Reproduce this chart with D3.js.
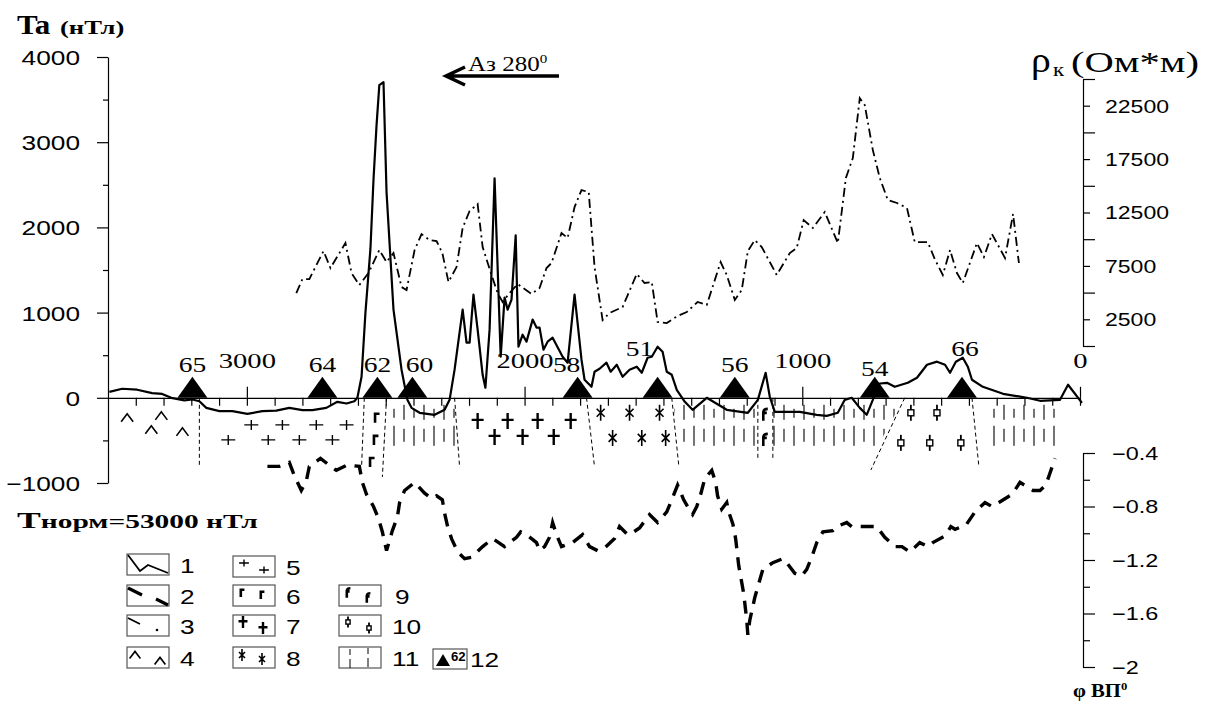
<!DOCTYPE html>
<html>
<head>
<meta charset="utf-8">
<script src="https://cdn.jsdelivr.net/npm/d3@7"></script>
<style>
  body { margin: 0; background: #fff; }
</style>
</head>
<body>
<div id="container"></div>
<script>
// ---- data ----
// distance along profile (m), anomaly Ta (nT)
const taProfile = [[3495,70],[3449,106],[3395,95],[3341,55],[3305,45],[3272,0],[3225,-31],[3196,-20],[3171,-40],[3146,-118],[3099,-157],[3052,-157],[2998,-188],[2944,-157],[2894,-150],[2847,-118],[2800,-145],[2764,-145],[2714,-118],[2674,-47],[2641,-67],[2613,-40],[2602,0],[2587,247],[2573,1000],[2555,1750],[2544,2560],[2533,3200],[2523,3670],[2508,3706],[2497,2412],[2472,1035],[2443,330],[2422,-24],[2407,-118],[2378,-176],[2324,-200],[2288,-141],[2270,-24],[2252,330],[2223,1035],[2209,647],[2198,647],[2184,1212],[2169,800],[2151,270],[2141,118],[2126,800],[2108,2576],[2086,482],[2072,1176],[2061,1035],[2047,1153],[2032,1906],[2022,600],[2007,741],[1993,659],[1971,918],[1957,824],[1946,824],[1932,565],[1917,659],[1899,706],[1863,482],[1845,412],[1820,1212],[1795,447],[1784,212],[1759,129],[1748,306],[1730,341],[1705,412],[1690,306],[1668,388],[1647,247],[1622,329],[1596,365],[1578,294],[1557,470],[1542,482],[1521,600],[1503,541],[1488,306],[1470,270],[1452,94],[1423,-47],[1395,-141],[1344,0],[1272,-141],[1196,-176],[1160,-24],[1132,294],[1117,12],[1099,-165],[1009,-165],[948,-200],[912,-212],[872,-176],[847,-24],[822,0],[793,-118],[768,-200],[746,-24],[728,165],[695,176],[667,129],[620,176],[587,235],[551,388],[515,424],[486,388],[468,294],[447,424],[422,470],[404,365],[389,212],[350,129],[277,47],[191,0],[144,-35],[72,-24],[43,153],[-7,-59]]

// apparent resistivity rho_k (Ohm*m)
const rhoProfile = [[2822,4960],[2800,6270],[2775,6270],[2724,8890],[2699,7300],[2645,9640],[2623,6830],[2595,5710],[2562,6830],[2523,8990],[2497,7860],[2472,8700],[2443,5520],[2425,5240],[2396,8990],[2371,10480],[2342,9920],[2317,9830],[2296,8700],[2274,5990],[2245,7390],[2223,11050],[2198,12640],[2169,13290],[2151,9270],[2119,6650],[2097,4960],[2079,4120],[2054,4960],[2025,5800],[1975,4870],[1946,5430],[1921,7300],[1903,7770],[1867,10580],[1845,10110],[1820,13010],[1795,14600],[1769,14410],[1748,7390],[1719,2430],[1694,3090],[1647,3650],[1596,6740],[1568,5900],[1542,5990],[1521,2250],[1488,2150],[1449,2810],[1416,3180],[1377,4120],[1344,3840],[1294,7860],[1272,6650],[1243,4310],[1218,5240],[1196,8890],[1171,9920],[1146,9270],[1092,6650],[1045,8700],[1020,9170],[995,11790],[962,11050],[919,12540],[872,9640],[843,15730],[818,17600],[793,23210],[775,22560],[746,18350],[721,15730],[692,13670],[659,13390],[623,12920],[595,9730],[548,9730],[523,8140],[494,6650],[468,8990],[443,6830],[422,5900],[371,9640],[346,8330],[317,10480],[270,8240],[241,12360],[220,7770]]

// induced polarisation phase (deg)
const phiProfile = [[2926,-0.50],[2883,-0.50],[2847,-0.47],[2829,-0.57],[2804,-0.68],[2786,-0.61],[2775,-0.50],[2735,-0.44],[2692,-0.51],[2678,-0.53],[2638,-0.49],[2595,-0.50],[2584,-0.62],[2569,-0.71],[2544,-0.80],[2526,-0.89],[2512,-0.99],[2497,-1.13],[2476,-0.98],[2458,-0.88],[2450,-0.77],[2432,-0.68],[2396,-0.62],[2360,-0.70],[2335,-0.74],[2317,-0.72],[2296,-0.75],[2288,-0.85],[2277,-0.95],[2263,-1.04],[2241,-1.14],[2216,-1.19],[2191,-1.18],[2151,-1.10],[2115,-1.04],[2072,-1.10],[2029,-1.03],[2014,-0.99],[1993,-1.01],[1957,-1.07],[1946,-1.13],[1928,-1.10],[1910,-1.03],[1899,-0.92],[1885,-1.01],[1867,-1.10],[1827,-1.07],[1791,-1.01],[1766,-1.10],[1737,-1.13],[1712,-1.11],[1676,-1.04],[1658,-0.95],[1629,-1.01],[1614,-1.00],[1586,-0.96],[1557,-0.88],[1550,-0.86],[1521,-0.92],[1488,-0.84],[1470,-0.75],[1449,-0.64],[1427,-0.75],[1405,-0.83],[1395,-0.86],[1380,-0.80],[1366,-0.71],[1351,-0.59],[1326,-0.53],[1312,-0.62],[1305,-0.72],[1290,-0.82],[1272,-0.77],[1265,-0.84],[1250,-0.93],[1240,-1.04],[1229,-1.24],[1211,-1.45],[1200,-1.65],[1196,-1.76],[1189,-1.65],[1171,-1.48],[1142,-1.27],[1106,-1.22],[1070,-1.19],[1056,-1.22],[1027,-1.30],[1002,-1.32],[984,-1.27],[966,-1.18],[948,-1.07],[926,-0.99],[890,-0.98],[876,-0.95],[840,-0.92],[822,-0.95],[786,-0.95],[732,-0.95],[703,-1.03],[667,-1.10],[641,-1.10],[613,-1.14],[577,-1.07],[548,-1.10],[530,-1.07],[486,-1.02],[465,-0.95],[450,-0.97],[411,-0.94],[378,-0.84],[342,-0.77],[317,-0.80],[292,-0.77],[245,-0.71],[216,-0.62],[169,-0.68],[144,-0.68],[123,-0.64],[108,-0.55],[90,-0.44]]

const stationNames = ['65', '64', '62', '60', '58', '51', '56', '54', '66']
const stationDist = [3196, 2728, 2530, 2404, 1809, 1521, 1243, 739, 425]

const distTicks = [3000, 2000, 1000, 0]
const taTicks = [4000, 3000, 2000, 1000, 0, -1000]
const rhoTicks = [2500, 7500, 12500, 17500, 22500]
const phiTicks = [-0.4, -0.8, -1.2, -1.6, -2]

// geological section under the profile: [distance, depth level in nT-units of the Ta axis]
const rockAndesite = [[3431,-235],[3344,-376],[3308,-212],[3232,-400]]        // 4
const rockGranite = [[2984,-318],[2872,-318],[2750,-318],[2641,-318],[3067,-494],[2923,-494],[2811,-494],[2692,-494]] // 5
const rockGabbro = [[2533,-235],[2537,-494],[2551,-753]]                        // 6
const rockDiorite = [[2169,-271],[2061,-271],[1953,-271],[1834,-271],[2108,-459],[2007,-459],[1895,-459]] // 7
const rockSyenite = [[1726,-176],[1622,-176],[1514,-176],[1683,-471],[1578,-471],[1492,-471]] // 8
const rockGabbroDi = [[1135,-200],[1135,-494]]                                  // 9
const rockPorphyry = [[609,-176],[515,-176],[645,-529],[541,-529],[429,-529]]   // 10
// sediment zones (11): [top left, top right, bottom left, bottom right] distances
const rockSediment = [[2497,2252,2505,2240],[1465,1160,1445,1160],[1106,640,1106,730],[325,88,325,88]]
// contacts: [distance at surface, distance at depth, depth level]
const contacts = [[3171,3171,-790],[2577,2587,-812],[2497,2512,-929],[2252,2234,-812],[1777,1748,-812],[1470,1445,-788],[1160,1160,-706],[1106,1106,-706],[631,753,-847],[389,364,-812]]

// ---- drawing ----
const width = 1207
const height = 705
const serif = "'Liberation Serif', 'Times New Roman', serif"
const sans = "'Liberation Sans', Arial, sans-serif"
const SX = 1.25

const svg = d3.select('#container')
    .append('svg')
    .attr('width', width)
    .attr('height', height)
    .style('background', '#fff')

const x = d3.scaleLinear().domain([3500, 0]).range([108, 1080])
const yTa = d3.scaleLinear().domain([-1000, 4000]).range([483, 57])
const yRho = d3.scaleLinear().domain([0, 25000]).range([346, 79])
const yPhi = d3.scaleLinear().domain([-2, -0.4]).range([667, 453])
const y0 = yTa(0)

const addText = (sel, px, py, str, size, family, opts = {}) => sel.append('text')
    .attr('transform', `translate(${px},${py}) scale(${opts.sx || SX},1)`)
    .attr('font-family', family)
    .attr('font-size', size)
    .attr('font-weight', opts.weight || 'normal')
    .attr('text-anchor', opts.anchor || 'start')
    .attr('dominant-baseline', opts.base || 'auto')
    .attr('fill', '#000')
    .text(str)

const styleAxis = g => {
    g.selectAll('path, line').attr('stroke', '#000').attr('stroke-width', 1.2)
}

// Ta axis
svg.append('g')
    .attr('transform', `translate(${x(3500)},0)`)
    .call(d3.axisLeft(yTa).tickValues(taTicks).tickSize(11).tickSizeOuter(0).tickFormat(d3.format('d')))
    .call(styleAxis)
    .call(g => g.selectAll('text')
        .attr('x', -28 / 1.25)
        .attr('dy', '0.36em')
        .attr('transform', 'scale(1.25,1)')
        .attr('font-family', sans)
        .attr('font-size', 21)
        .attr('fill', '#000'))
svg.append('g')
    .attr('transform', `translate(${x(3500)},0)`)
    .call(d3.axisLeft(yTa).tickValues([3500, 2500, 1500, 500, -500]).tickSize(5).tickFormat(''))
    .call(styleAxis)
    .call(g => g.select('.domain').remove())

// distance axis along Ta = 0
const distAxis = svg.append('g').attr('transform', `translate(0,${y0})`)
distAxis.append('g')
    .call(d3.axisBottom(x).tickValues(d3.range(0, 3500, 100)).tickSize(8).tickSizeOuter(0).tickFormat(''))
    .call(styleAxis)
distAxis.append('g')
    .call(d3.axisTop(x).tickValues(distTicks).tickSize(11).tickPadding(19).tickFormat(d3.format('d')))
    .call(styleAxis)
    .call(g => g.select('.domain').remove())
    .call(g => g.selectAll('text')
        .attr('transform', 'scale(1.3,1)')
        .attr('font-family', serif)
        .attr('font-size', 22)
        .attr('fill', '#000'))

// rho axis
const rhoAxis = svg.append('g').attr('transform', 'translate(1083,0)')
rhoAxis.append('g')
    .call(d3.axisRight(yRho).tickValues([0, 5000, 10000, 15000, 20000, 25000]).tickSize(12).tickSizeOuter(0).tickFormat(''))
    .call(styleAxis)
rhoAxis.append('g')
    .call(d3.axisRight(yRho).tickValues(rhoTicks).tickSize(7).tickFormat(d3.format('d')))
    .call(styleAxis)
    .call(g => g.select('.domain').remove())
    .call(g => g.selectAll('text')
        .attr('x', 22 / 1.28)
        .attr('dy', '0.36em')
        .attr('transform', 'scale(1.28,1)')
        .attr('font-family', sans)
        .attr('font-size', 18)
        .attr('fill', '#000'))

// phi axis
const phiAxis = svg.append('g').attr('transform', 'translate(1083,0)')
phiAxis.append('g')
    .call(d3.axisRight(yPhi).tickValues(phiTicks).tickSize(12).tickSizeOuter(0).tickFormat(d3.format('')))
    .call(styleAxis)
    .call(g => g.selectAll('text')
        .attr('x', 29 / 1.3)
        .attr('dy', '0.36em')
        .attr('transform', 'scale(1.3,1)')
        .attr('font-family', sans)
        .attr('font-size', 18)
        .attr('fill', '#000'))
phiAxis.append('g')
    .call(d3.axisRight(yPhi).tickValues([-0.6, -1.0, -1.4, -1.8]).tickSize(7).tickFormat(''))
    .call(styleAxis)
    .call(g => g.select('.domain').remove())

// sediment zones (pattern 11)
const defs = svg.append('defs')
const pat = defs.append('pattern')
    .attr('id', 'sed')
    .attr('patternUnits', 'userSpaceOnUse')
    .attr('width', 20)
    .attr('height', 52)
    .attr('patternTransform', `translate(0,${y0})`)
const patLines = [[4, 7, 22], [14, 11, 20], [4, 31, 44], [14, 28, 48]]
patLines.forEach(([lx, a, b]) => pat.append('line')
    .attr('x1', lx).attr('x2', lx).attr('y1', a).attr('y2', b)
    .attr('stroke', '#000').attr('stroke-width', 1.1))

svg.selectAll('.sed').data(rockSediment)
    .join('path')
    .attr('class', 'sed')
    .attr('d', d => `M${x(d[0])},${yTa(-40)}L${x(d[1])},${yTa(-40)}L${x(d[3])},${yTa(-580)}L${x(d[2])},${yTa(-580)}Z`)
    .attr('fill', 'url(#sed)')

// contacts
svg.selectAll('.contact').data(contacts)
    .join('line')
    .attr('class', 'contact')
    .attr('x1', d => x(d[0])).attr('y1', y0)
    .attr('x2', d => x(d[1])).attr('y2', d => yTa(d[2]))
    .attr('stroke', '#000')
    .attr('stroke-width', 1)
    .attr('stroke-dasharray', '4,3')

// rock symbols
const symbols = {
    andesite: (g, cx, cy, k = 1) => g.append('path')
        .attr('d', `M${cx - 6 * k},${cy + 4 * k}L${cx},${cy - 4 * k}L${cx + 6 * k},${cy + 4 * k}`)
        .attr('fill', 'none').attr('stroke', '#000').attr('stroke-width', 1.6),
    granite: (g, cx, cy, k = 1) => g.append('path')
        .attr('d', `M${cx - 7 * k},${cy}H${cx + 7 * k}M${cx},${cy - 5 * k}V${cy + 5 * k}`)
        .attr('fill', 'none').attr('stroke', '#000').attr('stroke-width', 1.4),
    gabbro: (g, cx, cy, k = 1) => g.append('path')
        .attr('d', `M${cx - 1.5 * k},${cy + 5 * k}V${cy - 4 * k}H${cx + 3 * k}`)
        .attr('fill', 'none').attr('stroke', '#000').attr('stroke-width', 2.6),
    diorite: (g, cx, cy, k = 1) => g.append('path')
        .attr('d', `M${cx - 6 * k},${cy - 1 * k}H${cx + 6 * k}M${cx},${cy - 8 * k}V${cy + 8 * k}`)
        .attr('fill', 'none').attr('stroke', '#000').attr('stroke-width', 2.4),
    syenite: (g, cx, cy, k = 1) => g.append('path')
        .attr('d', `M${cx},${cy - 8 * k}V${cy + 8 * k}M${cx - 4 * k},${cy - 4 * k}L${cx + 4 * k},${cy + 4 * k}M${cx + 4 * k},${cy - 4 * k}L${cx - 4 * k},${cy + 4 * k}`)
        .attr('fill', 'none').attr('stroke', '#000').attr('stroke-width', 1.6),
    gabbroDi: (g, cx, cy, k = 1) => g.append('path')
        .attr('d', `M${cx - 1.5 * k},${cy + 6 * k}V${cy - 3 * k}Q${cx - 1 * k},${cy - 6 * k} ${cx + 3 * k},${cy - 6 * k}M${cx - 1.5 * k},${cy - 2 * k}H${cx + 2 * k}`)
        .attr('fill', 'none').attr('stroke', '#000').attr('stroke-width', 2.6),
    porphyry: (g, cx, cy, k = 1) => {
        g.append('line').attr('x1', cx).attr('x2', cx).attr('y1', cy - 8 * k).attr('y2', cy + 8 * k)
            .attr('stroke', '#000').attr('stroke-width', 1.8)
        g.append('rect').attr('x', cx - 3 * k).attr('y', cy - 3 * k).attr('width', 6 * k).attr('height', 6 * k)
            .attr('fill', '#fff').attr('stroke', '#000').attr('stroke-width', 1.4)
    }
}
const rocks = svg.append('g')
const placeRocks = (list, fn) => list.forEach(d => fn(rocks, x(d[0]), yTa(d[1])))
placeRocks(rockAndesite, symbols.andesite)
placeRocks(rockGranite, symbols.granite)
placeRocks(rockGabbro, symbols.gabbro)
placeRocks(rockDiorite, symbols.diorite)
placeRocks(rockSyenite, symbols.syenite)
placeRocks(rockGabbroDi, symbols.gabbroDi)
placeRocks(rockPorphyry, symbols.porphyry)

// curves
const taLine = d3.line().x(d => x(d[0])).y(d => yTa(d[1]))
const rhoLine = d3.line().x(d => x(d[0])).y(d => yRho(d[1]))
const phiLine = d3.line().x(d => x(d[0])).y(d => yPhi(d[1]))

svg.append('path').datum(rhoProfile)
    .attr('d', rhoLine)
    .attr('fill', 'none').attr('stroke', '#000').attr('stroke-width', 1.8)
    .attr('stroke-dasharray', '9,4,2,4')

svg.append('path').datum(phiProfile)
    .attr('d', phiLine)
    .attr('fill', 'none').attr('stroke', '#000').attr('stroke-width', 3.4)
    .attr('stroke-dasharray', '13,9')

svg.append('path').datum(taProfile)
    .attr('d', taLine)
    .attr('fill', 'none').attr('stroke', '#000').attr('stroke-width', 2.2)
    .attr('stroke-linejoin', 'round')

// stations
const labelLift = { '51': 16, '66': 16, '54': -4 }
const labelShift = { '60': 7, '58': -11, '51': -18, '66': 3 }
stationNames.forEach((name, i) => {
    const sx = x(stationDist[i])
    svg.append('path')
        .attr('d', `M${sx - 15},${y0}L${sx},${y0 - 21}L${sx + 15},${y0}Z`)
        .attr('fill', '#000')
    addText(svg, sx + (labelShift[name] || 0), y0 - 26 - (labelLift[name] || 0), name, 22, serif, { anchor: 'middle' })
})

// titles
addText(svg, 17, 34, 'Ta', 27, serif, { weight: 'bold', sx: 1.15 })
addText(svg, 60, 34, '(нТл)', 19, serif, { weight: 'bold', sx: 1.4 })

addText(svg, 1031, 72, 'ρ', 36, serif, { sx: 1.1 })
addText(svg, 1053, 76, 'к', 19, serif, { sx: 1.2 })
addText(svg, 1071, 72, '(Ом*м)', 29, serif, { sx: 1.4 })

const ph = svg.append('text').attr('transform', 'translate(1073,697) scale(1.15,1)')
    .attr('font-family', serif).attr('font-weight', 'bold').attr('fill', '#000')
ph.append('tspan').attr('font-size', 18).text('φ ВП')
ph.append('tspan').attr('font-size', 11).attr('dy', -7).text('0')

const tn = svg.append('text').attr('transform', 'translate(17,528) scale(1.55,1)')
    .attr('font-family', serif).attr('font-weight', 'bold').attr('fill', '#000')
tn.append('tspan').attr('font-size', 23).text('T')
tn.append('tspan').attr('font-size', 19).text('норм=53000 нТл')

// azimuth arrow
svg.append('path')
    .attr('d', 'M559,76H447M465,67L446,76L465,85')
    .attr('fill', 'none').attr('stroke', '#000').attr('stroke-width', 3.5)
    .attr('stroke-linejoin', 'miter')
const az = svg.append('text').attr('transform', 'translate(468,71) scale(1.25,1)')
    .attr('font-family', serif).attr('fill', '#000')
az.append('tspan').attr('font-size', 20).text('Аз 280')
az.append('tspan').attr('font-size', 12).attr('dy', -8).text('0')

// legend
const legend = svg.append('g').attr('id', 'legend')
const legendItems = [
    { n: '1', bx: 127, by: 554 }, { n: '2', bx: 127, by: 585 }, { n: '3', bx: 127, by: 615 }, { n: '4', bx: 127, by: 647 },
    { n: '5', bx: 233, by: 556 }, { n: '6', bx: 233, by: 585 }, { n: '7', bx: 233, by: 615 }, { n: '8', bx: 233, by: 647 },
    { n: '9', bx: 339, by: 585 }, { n: '10', bx: 339, by: 615 }, { n: '11', bx: 339, by: 647 }
]
legendItems.forEach(item => {
    const g = legend.append('g').attr('transform', `translate(${item.bx},${item.by})`)
    g.append('rect').attr('width', 42).attr('height', 21)
        .attr('fill', '#fff').attr('stroke', '#555').attr('stroke-width', 1.2)
    const n = item.n
    if (n === '1') {
        g.append('path').attr('d', 'M1,1L13,17L21,11L41,19').attr('fill', 'none').attr('stroke', '#000').attr('stroke-width', 1.8)
    } else if (n === '2') {
        g.append('path').attr('d', 'M1,3L15,10M29,14L41,20').attr('fill', 'none').attr('stroke', '#000').attr('stroke-width', 3.2)
    } else if (n === '3') {
        g.append('path').attr('d', 'M1,3L13,9').attr('fill', 'none').attr('stroke', '#000').attr('stroke-width', 1.8)
        g.append('circle').attr('cx', 30).attr('cy', 15).attr('r', 1.3).attr('fill', '#000')
    } else if (n === '4') {
        symbols.andesite(g, 8, 8, 0.9); symbols.andesite(g, 33, 14, 0.9)
    } else if (n === '5') {
        symbols.granite(g, 11, 7, 0.7); symbols.granite(g, 31, 14, 0.7)
    } else if (n === '6') {
        symbols.gabbro(g, 9, 8, 0.8); symbols.gabbro(g, 29, 10, 0.8)
    } else if (n === '7') {
        symbols.diorite(g, 10, 7, 0.75); symbols.diorite(g, 30, 13, 0.75)
    } else if (n === '8') {
        symbols.syenite(g, 9, 8, 0.75); symbols.syenite(g, 29, 12, 0.75)
    } else if (n === '9') {
        symbols.gabbroDi(g, 9, 8, 0.8); symbols.gabbroDi(g, 29, 13, 0.8)
    } else if (n === '10') {
        symbols.porphyry(g, 9, 7, 0.7); symbols.porphyry(g, 30, 13, 0.7)
    } else if (n === '11') {
        g.append('path').attr('d', 'M11,2V8M11,12V21M29,1V7M29,11V20').attr('stroke', '#000').attr('stroke-width', 1)
    }
    addText(legend, item.bx + (n === '9' ? 56 : 53), item.by + 11, n, 21, sans, { base: 'central' })
})
const l12 = legend.append('g').attr('transform', 'translate(433,649)')
l12.append('rect').attr('width', 34).attr('height', 20).attr('fill', '#fff').attr('stroke', '#555').attr('stroke-width', 1.2)
l12.append('path').attr('d', 'M3,17L10,5L17,17Z').attr('fill', '#000')
addText(l12, 18, 12, '62', 12, sans, { weight: 'bold', sx: 1.1 })
addText(legend, 470, 659, '12', 21, sans, { base: 'central' })
</script>
</body>
</html>
